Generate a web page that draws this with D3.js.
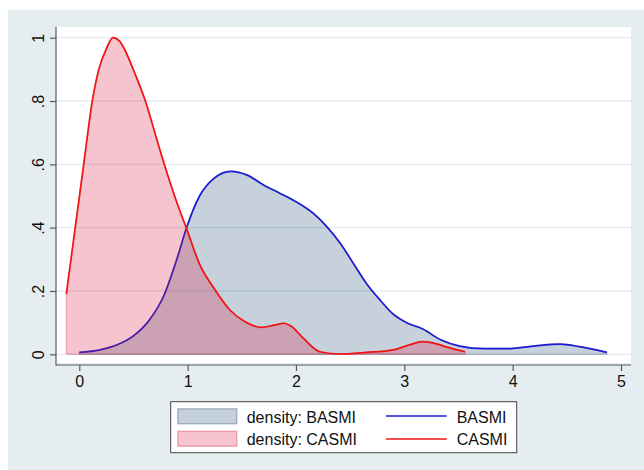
<!DOCTYPE html>
<html>
<head>
<meta charset="utf-8">
<script src="https://cdn.jsdelivr.net/npm/d3@7"></script>
<style>
  html, body { margin: 0; padding: 0; background: #ffffff; }
  svg { display: block; }
  text { font-family: "Liberation Sans", Arial, Helvetica, sans-serif; fill: #111; }
</style>
</head>
<body>
<div id="chart"></div>
<script>
// ---- data ----
const basmiX = [0.00, 0.19, 0.35, 0.50, 0.65, 0.78, 0.90, 0.99, 1.11, 1.24, 1.40, 1.55, 1.70, 1.85, 2.00, 2.16, 2.28, 2.41, 2.53, 2.65, 2.78, 2.90, 3.02, 3.17, 3.34, 3.51, 3.73, 3.98, 4.19, 4.44, 4.62, 4.87];
const basmiY = [0.006, 0.014, 0.030, 0.058, 0.110, 0.185, 0.300, 0.400, 0.500, 0.555, 0.578, 0.566, 0.535, 0.509, 0.482, 0.445, 0.405, 0.350, 0.287, 0.224, 0.170, 0.126, 0.100, 0.080, 0.045, 0.026, 0.018, 0.018, 0.026, 0.032, 0.024, 0.006];

const casmiX = [-0.12, -0.04, 0.00, 0.04, 0.12, 0.18, 0.25, 0.31, 0.37, 0.42, 0.50, 0.61, 0.71, 0.78, 0.89, 0.99, 1.11, 1.24, 1.39, 1.53, 1.68, 1.80, 1.89, 1.95, 2.07, 2.22, 2.40, 2.65, 2.90, 3.05, 3.16, 3.25, 3.40, 3.56];
const casmiY = [0.190, 0.394, 0.496, 0.598, 0.800, 0.900, 0.965, 1.000, 0.990, 0.962, 0.898, 0.800, 0.685, 0.605, 0.490, 0.397, 0.285, 0.210, 0.140, 0.103, 0.085, 0.092, 0.098, 0.090, 0.050, 0.008, 0.001, 0.006, 0.014, 0.030, 0.040, 0.037, 0.022, 0.008];

const xTicks = [0, 1, 2, 3, 4, 5];
const xTickLabels = ["0", "1", "2", "3", "4", "5"];
const yTicks = [0, 0.2, 0.4, 0.6, 0.8, 1];
const yTickLabels = ["0", ".2", ".4", ".6", ".8", "1"];

const legendItems = ["density: BASMI", "density: CASMI", "BASMI", "CASMI"];

// ---- layout ----
const W = 644, H = 470;
const svg = d3.select("#chart").append("svg").attr("width", W).attr("height", H);

const bg = "#e5edf0";
svg.append("rect").attr("x", 8).attr("y", 10).attr("width", W - 8).attr("height", H - 10).attr("fill", bg);

const plot = { left: 56, right: 631, top: 27, bottom: 363 };
svg.append("rect").attr("x", plot.left).attr("y", plot.top)
  .attr("width", plot.right - plot.left).attr("height", plot.bottom - plot.top).attr("fill", "#ffffff");

const x = d3.scaleLinear().domain([0, 5]).range([79.3, 621]);
const y = d3.scaleLinear().domain([0, 1]).range([354.3, 37.7]);

// gridlines
svg.append("g").selectAll("line").data(yTicks).join("line")
  .attr("x1", plot.left).attr("x2", plot.right)
  .attr("y1", d => y(d)).attr("y2", d => y(d))
  .attr("stroke", "#e3ebef").attr("stroke-width", 1.3);

// series
const basmi = basmiX.map((v, i) => [v, basmiY[i]]);
const casmi = casmiX.map((v, i) => [v, casmiY[i]]);

const curve = d3.curveMonotoneX;
const area = d3.area().x(d => x(d[0])).y0(y(0)).y1(d => y(d[1])).curve(curve);
const line = d3.line().x(d => x(d[0])).y(d => y(d[1])).curve(curve);

const navyFill = "rgba(26,71,111,0.25)";
const crimsonFill = "rgba(220,20,60,0.25)";
const blueLine = "#1c1cd2";
const redLine = "#f01414";

svg.append("path").attr("d", area(basmi)).attr("fill", navyFill)
  .attr("stroke", navyFill).attr("stroke-width", 1.5);
svg.append("path").attr("d", line(basmi)).attr("fill", "none")
  .attr("stroke", blueLine).attr("stroke-width", 1.7);
svg.append("path").attr("d", area(casmi)).attr("fill", crimsonFill)
  .attr("stroke", crimsonFill).attr("stroke-width", 1.5);
svg.append("path").attr("d", line(casmi)).attr("fill", "none")
  .attr("stroke", redLine).attr("stroke-width", 1.7);

// axes
const axisColor = "#5a5a5a";
const yAxis = d3.axisLeft(y).tickValues(yTicks).tickFormat((d, i) => yTickLabels[i]).tickSize(6).tickPadding(6);
const gy = svg.append("g").attr("transform", `translate(${plot.left},0)`).call(yAxis);
gy.select(".domain").remove();
gy.append("line").attr("x1", 0).attr("x2", 0).attr("y1", plot.top).attr("y2", 365.5)
  .attr("stroke", axisColor).attr("stroke-width", 1.2);
gy.selectAll(".tick line").attr("stroke", axisColor).attr("stroke-width", 1.2);
gy.selectAll(".tick text")
  .attr("x", null).attr("dy", null)
  .attr("transform", "translate(-12.5,0) rotate(-90)")
  .attr("text-anchor", "middle")
  .style("font-size", "16px").style("font-family", "Liberation Sans, Arial, sans-serif").attr("fill", "#111");

const xAxis = d3.axisBottom(x).tickValues(xTicks).tickFormat((d, i) => xTickLabels[i]).tickSize(6).tickPadding(4);
const gx = svg.append("g").attr("transform", `translate(0,365)`).call(xAxis);
gx.select(".domain").remove();
gx.append("line").attr("x1", plot.left).attr("x2", plot.right).attr("y1", 0).attr("y2", 0)
  .attr("stroke", axisColor).attr("stroke-width", 1.2);
gx.selectAll(".tick line").attr("stroke", axisColor).attr("stroke-width", 1.2);
gx.selectAll(".tick text").attr("dy", null).attr("y", 22)
  .style("font-size", "16px").style("font-family", "Liberation Sans, Arial, sans-serif").attr("fill", "#111");

// legend
const lg = svg.append("g");
lg.append("rect").attr("x", 170.7).attr("y", 401.7).attr("width", 346).attr("height", 51)
  .attr("fill", "#ffffff").attr("stroke", "#444").attr("stroke-width", 1);

lg.append("rect").attr("x", 177.8).attr("y", 408.8).attr("width", 59).attr("height", 15)
  .attr("fill", navyFill).attr("stroke", "rgba(26,71,111,0.3)").attr("stroke-width", 1.5);
lg.append("rect").attr("x", 177.8).attr("y", 431.3).attr("width", 59).attr("height", 15)
  .attr("fill", crimsonFill).attr("stroke", "rgba(220,20,60,0.3)").attr("stroke-width", 1.5);
lg.append("line").attr("x1", 386).attr("x2", 446.7).attr("y1", 416).attr("y2", 416)
  .attr("stroke", blueLine).attr("stroke-width", 1.7);
lg.append("line").attr("x1", 386).attr("x2", 446.7).attr("y1", 439).attr("y2", 439)
  .attr("stroke", redLine).attr("stroke-width", 1.7);

const legPos = [[246.7, 422.7], [246.7, 445], [456.7, 422.7], [456.7, 445]];
lg.selectAll("text.leg").data(legendItems).join("text").attr("class", "leg")
  .attr("x", (d, i) => legPos[i][0]).attr("y", (d, i) => legPos[i][1])
  .style("font-size", "16px").text(d => d);
</script>
</body>
</html>
